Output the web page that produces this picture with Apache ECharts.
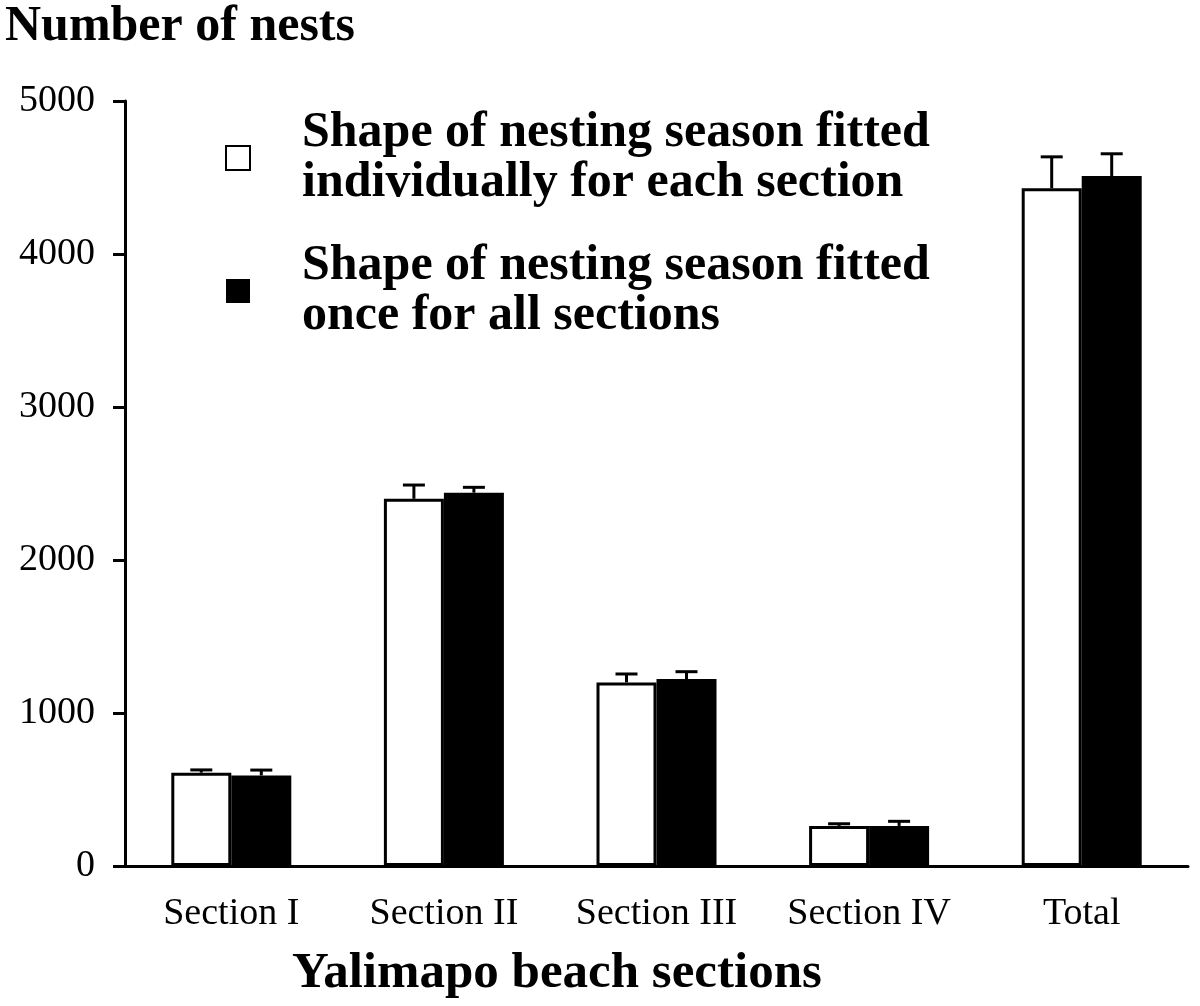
<!DOCTYPE html>
<html><head><meta charset="utf-8">
<script src="https://cdn.jsdelivr.net/npm/echarts@6/dist/echarts.min.js"></script>
<style>html,body{margin:0;padding:0;background:#fff}#c{width:1200px;height:1006px}</style>
</head><body><div id="c"></div>
<script>
const categories = ['Section I', 'Section II', 'Section III', 'Section IV', 'Total'];
const individualValues = [610, 2400, 1200, 262, 4430];
const individualErrors = [18, 90, 55, 14, 205];
const onceValues = [592, 2440, 1222, 262, 4510];
const onceErrors = [35, 35, 48, 30, 145];
const yTicks = [0, 1000, 2000, 3000, 4000, 5000];
const legendNames = ['Shape of nesting season fitted\nindividually for each section', 'Shape of nesting season fitted\nonce for all sections'];

const FONT = '"Liberation Serif", "Times New Roman", serif';
const BAR_W = 60;

function errSeries(vals, errs, offset) {
  return {
    type: 'custom',
    silent: true,
    z: 5,
    data: vals.map((v, i) => [i, v, v + errs[i]]),
    renderItem: function (params, api) {
      const base = api.coord([api.value(0), api.value(1)]);
      const top = api.coord([api.value(0), api.value(2)]);
      const x = base[0] + offset;
      return {
        type: 'group',
        children: [
          { type: 'line', shape: { x1: x, y1: base[1], x2: x, y2: top[1] }, style: { stroke: '#000', lineWidth: 3 } },
          { type: 'line', shape: { x1: x - 11, y1: top[1], x2: x + 11, y2: top[1] }, style: { stroke: '#000', lineWidth: 3 } }
        ]
      };
    }
  };
}

const chart = echarts.init(document.getElementById('c'), null, { renderer: 'canvas' });
chart.setOption({
  animation: false,
  backgroundColor: '#fff',
  title: {
    text: 'Number of nests', left: 0, top: -3,
    textStyle: { fontFamily: FONT, fontSize: 50, fontWeight: 'bold', color: '#000' }
  },
  legend: {
    orient: 'vertical', left: 220, top: 103, itemGap: 33,
    itemWidth: 24, itemHeight: 24,
    icon: 'rect',
    data: [legendNames[0], legendNames[1]],
    textStyle: { fontFamily: FONT, fontSize: 50, fontWeight: 'bold', color: '#000', lineHeight: 50, padding: [0, 0, 0, 47] }
  },
  grid: { left: 125, right: 12, top: 101, bottom: 140 },
  xAxis: {
    type: 'category', data: categories,
    axisLine: { lineStyle: { color: '#000', width: 3 } },
    axisTick: { length: 11, lineStyle: { color: '#000', width: 3 } },
    axisLabel: { fontFamily: FONT, fontSize: 38, color: '#000', margin: 29, interval: 0 }
  },
  yAxis: {
    type: 'value', min: yTicks[0], max: yTicks[yTicks.length - 1], interval: 1000,
    splitLine: { show: false },
    axisLine: { show: true, lineStyle: { color: '#000', width: 3 } },
    axisTick: { show: true, length: 12, lineStyle: { color: '#000', width: 3 } },
    axisLabel: { fontFamily: FONT, fontSize: 38, color: '#000', margin: 30, formatter: v => String(v) }
  },
  graphic: [{
    type: 'text', left: 292, top: 948,
    style: { text: 'Yalimapo beach sections', font: 'bold 51px ' + FONT, fill: '#000' }
  }],
  series: [
    {
      name: legendNames[0], type: 'bar', data: individualValues, barWidth: BAR_W, barGap: '0%',
      itemStyle: { color: '#fff', borderColor: '#000', borderWidth: 3 }
    },
    {
      name: legendNames[1], type: 'bar', data: onceValues, barWidth: BAR_W, barGap: '0%',
      itemStyle: { color: '#000', borderColor: '#000', borderWidth: 0 }
    },
    errSeries(individualValues, individualErrors, -BAR_W / 2),
    errSeries(onceValues, onceErrors, BAR_W / 2)
  ]
});
</script></body></html>
